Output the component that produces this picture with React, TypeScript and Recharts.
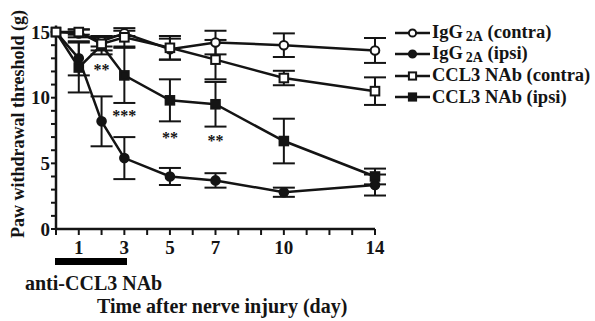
import {
  ComposedChart,
  ErrorBar,
  Line,
  Scatter,
  XAxis,
  YAxis,
} from 'recharts';

const days = [0, 1, 2, 3, 5, 7, 10, 14];
const iggContra = [15, 14.9, 14.3, 14.9, 13.7, 14.2, 14.0, 13.6];
const iggContraErr = [0, 0.3, 0.4, 0.2, 0.8, 0.9, 0.9, 0.95];
const iggIpsi = [15, 13.0, 8.2, 5.4, 4.0, 3.7, 2.8, 3.35];
const iggIpsiErr = [0, 1.3, 1.9, 1.6, 0.65, 0.55, 0.35, 0.8];
const ccl3Contra = [15, 15.0, 14.1, 14.6, 13.8, 12.9, 11.5, 10.5];
const ccl3ContraErr = [0, 0.2, 0.5, 0.7, 0.9, 1.5, 0.55, 1.05];
const ccl3Ipsi = [15, 12.3, 14.0, 11.7, 9.8, 9.5, 6.7, 4.0];
const ccl3IpsiErr = [0, 1.9, 0.7, 2.1, 1.6, 1.7, 1.7, 0.6];

const xTicks = [0, 1, 2, 3, 4, 5, 6, 7, 8, 9, 10, 11, 12, 13, 14];
const xLabelled = [1, 3, 5, 7, 10, 14];
const yTicks = [0, 1, 2, 3, 4, 5, 6, 7, 8, 9, 10, 11, 12, 13, 14, 15];
const yLabelled = [0, 5, 10, 15];

const starDays = [2, 3, 5, 7];
const starLevels = [12.4, 8.9, 7.2, 7.0];
const starTexts = ['**', '***', '**', '**'];

const data = days.map((d, i) => ({
  day: d,
  iggContra: iggContra[i],
  iggContraErr: iggContraErr[i],
  iggIpsi: iggIpsi[i],
  iggIpsiErr: iggIpsiErr[i],
  ccl3Contra: ccl3Contra[i],
  ccl3ContraErr: ccl3ContraErr[i],
  ccl3Ipsi: ccl3Ipsi[i],
  ccl3IpsiErr: ccl3IpsiErr[i],
}));

const stars = starDays.map((d, i) => ({ day: d, level: starLevels[i], text: starTexts[i] }));

const INK = '#141414';
const FONT = '"Liberation Serif", "Times New Roman", serif';

const dotShape = (kind: string, r = 4.3) => (p: any) => {
  const { cx, cy, index } = p;
  const fill = kind.startsWith('open') ? '#fff' : INK;
  if (kind.endsWith('circle'))
    return <circle key={`${kind}-${index}`} cx={cx} cy={cy} r={r} fill={fill} stroke={INK} strokeWidth={2} />;
  return <rect key={`${kind}-${index}`} x={cx - r} y={cy - r} width={2 * r} height={2 * r} fill={fill} stroke={INK} strokeWidth={2} />;
};

const StarText = (p: any) => (
  <text x={p.cx} y={p.cy + 9} textAnchor="middle" fontFamily={FONT} fontWeight="bold" fontSize={16} fill={INK}>
    {p.payload.text}
  </text>
);

const legendRows = [
  { kind: 'open-circle', name: 'IgG', sub: '2A', rest: ' (contra)' },
  { kind: 'filled-circle', name: 'IgG', sub: '2A', rest: ' (ipsi)' },
  { kind: 'open-square', name: 'CCL3 NAb (contra)', sub: '', rest: '' },
  { kind: 'filled-square', name: 'CCL3 NAb (ipsi)', sub: '', rest: '' },
];

export default function App() {
  const tickStyle = { fill: INK, fontSize: 19, fontFamily: FONT, fontWeight: 'bold' as const };
  return (
    <div style={{ position: 'relative', width: 595, height: 321, background: '#fff', fontFamily: FONT }}>
      <style>{'body{margin:0}'}</style>
      <ComposedChart width={595} height={321} data={data} margin={{ top: 25.5, right: 220, left: 16, bottom: 62 }}>
        <XAxis
          dataKey="day"
          type="number"
          domain={[0, 14]}
          ticks={xTicks}
          interval={0}
          tickFormatter={(v) => (xLabelled.includes(v) ? String(v) : '')}
          tick={tickStyle}
          tickSize={6}
          tickMargin={6}
          height={30}
          axisLine={{ stroke: INK, strokeWidth: 2.5 }}
          tickLine={{ stroke: INK, strokeWidth: 2 }}
        />
        <YAxis
          type="number"
          domain={[0, 15.5]}
          ticks={yTicks}
          interval={0}
          tickFormatter={(v) => (yLabelled.includes(v) ? String(v) : '')}
          tick={tickStyle}
          tickSize={5}
          tickMargin={1}
          width={40}
          axisLine={{ stroke: INK, strokeWidth: 2.5 }}
          tickLine={{ stroke: INK, strokeWidth: 2 }}
        />
        <Line dataKey="iggIpsi" stroke={INK} strokeWidth={2.5} dot={dotShape('filled-circle')} isAnimationActive={false}>
          <ErrorBar dataKey="iggIpsiErr" width={11} stroke={INK} strokeWidth={2} />
        </Line>
        <Line dataKey="ccl3Ipsi" stroke={INK} strokeWidth={2.5} dot={dotShape('filled-square')} isAnimationActive={false}>
          <ErrorBar dataKey="ccl3IpsiErr" width={11} stroke={INK} strokeWidth={2} />
        </Line>
        <Line dataKey="iggContra" stroke={INK} strokeWidth={2.5} dot={dotShape('open-circle')} isAnimationActive={false}>
          <ErrorBar dataKey="iggContraErr" width={11} stroke={INK} strokeWidth={2} />
        </Line>
        <Line dataKey="ccl3Contra" stroke={INK} strokeWidth={2.5} dot={dotShape('open-square')} isAnimationActive={false}>
          <ErrorBar dataKey="ccl3ContraErr" width={11} stroke={INK} strokeWidth={2} />
        </Line>
        <Scatter data={stars} dataKey="level" shape={StarText} isAnimationActive={false} />
      </ComposedChart>

      <div style={{ position: 'absolute', left: 395, top: 22, fontWeight: 'bold', fontSize: 18.5, lineHeight: '21.5px', color: INK }}>
        {legendRows.map((r) => (
          <div key={r.kind} style={{ display: 'flex', alignItems: 'center', height: 21.5, whiteSpace: 'nowrap' }}>
            <svg width={35} height={14} style={{ marginRight: 2 }}>
              <line x1={0} x2={35} y1={7} y2={7} stroke={INK} strokeWidth={2.5} />
              {dotShape(r.kind, 3.6)({ cx: 17.5, cy: 7, index: 0 })}
            </svg>
            <span>
              {r.name}
              {r.sub && <span style={{ fontSize: 14, position: 'relative', top: 3, marginLeft: 3 }}>{r.sub}</span>}
              {r.rest}
            </span>
          </div>
        ))}
      </div>

      <div style={{ position: 'absolute', left: 55, top: 258, width: 72, height: 7, background: '#000' }} />
      <div style={{ position: 'absolute', left: 25, top: 272, fontWeight: 'bold', fontSize: 20, color: INK, whiteSpace: 'nowrap' }}>
        anti-CCL3 NAb
      </div>
      <div style={{ position: 'absolute', left: 97, top: 295, fontWeight: 'bold', fontSize: 20, color: INK, whiteSpace: 'nowrap' }}>
        Time after nerve injury (day)
      </div>
      <div
        style={{
          position: 'absolute',
          left: 18,
          top: 124,
          transform: 'translate(-50%, -50%) rotate(-90deg)',
          fontWeight: 'bold',
          fontSize: 18,
          color: INK,
          whiteSpace: 'nowrap',
        }}
      >
        Paw withdrawal threshold (g)
      </div>
    </div>
  );
}
